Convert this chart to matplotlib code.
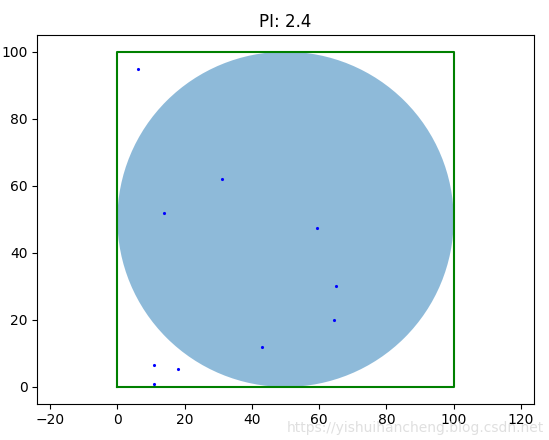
import matplotlib
matplotlib.use("Agg")
import matplotlib.pyplot as plt
from matplotlib.patches import Circle

# random points
xs = [6, 31, 14, 59.5, 65, 64.5, 43, 11, 18, 11]
ys = [95, 62, 52, 47.5, 30, 20, 12, 6.5, 5.5, 1]
pi_est = 2.4

fig = plt.figure(figsize=(5.49, 4.4), dpi=100)
ax = fig.add_axes([0.068, 0.0825, 0.9042, 0.838])

ax.add_patch(Circle((50, 50), 50, color="C0", alpha=0.5, lw=0))
ax.plot([0, 100, 100, 0, 0], [0, 0, 100, 100, 0], "g-", lw=1.5)
ax.plot(xs, ys, "b.", markersize=2.5)

# equal scale on both axes
ax.set_xlim(-23.8, 123.8)
ax.set_ylim(-5, 105)
ax.set_title("PI: %s" % pi_est)

fig.text(0.99, 0.012, "https://yishuihancheng.blog.csdn.net", ha="right",
         va="bottom", fontsize=10, color="#d8d8d8", alpha=0.8)

fig.savefig("out.png", dpi=100)
